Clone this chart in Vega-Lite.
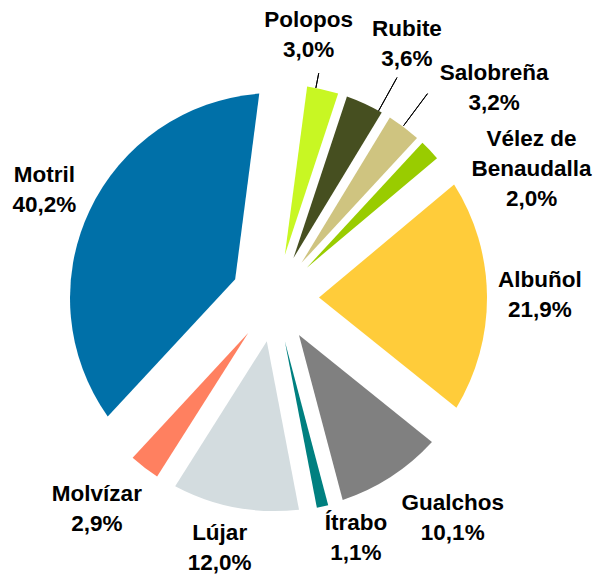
{
  "$schema": "https://vega.github.io/schema/vega-lite/v6.json",
  "width": 550,
  "height": 554,
  "autosize": {"type": "none"},
  "padding": {"left": 0, "top": 21, "right": 44, "bottom": 0},
  "background": "white",
  "config": {"view": {"stroke": null}},
  "data": {
    "values": [
      {"municipio": "Polopos", "porcentaje": 3.0, "orden": 1, "etiqueta": "Polopos\n3,0%"},
      {"municipio": "Rubite", "porcentaje": 3.6, "orden": 2, "etiqueta": "Rubite\n3,6%"},
      {"municipio": "Salobreña", "porcentaje": 3.2, "orden": 3, "etiqueta": "Salobreña\n3,2%"},
      {"municipio": "Vélez de Benaudalla", "porcentaje": 2.0, "orden": 4, "etiqueta": "Vélez de\nBenaudalla\n2,0%"},
      {"municipio": "Albuñol", "porcentaje": 21.9, "orden": 5, "etiqueta": "Albuñol\n21,9%"},
      {"municipio": "Gualchos", "porcentaje": 10.1, "orden": 6, "etiqueta": "Gualchos\n10,1%"},
      {"municipio": "Ítrabo", "porcentaje": 1.1, "orden": 7, "etiqueta": "Ítrabo\n1,1%"},
      {"municipio": "Lújar", "porcentaje": 12.0, "orden": 8, "etiqueta": "Lújar\n12,0%"},
      {"municipio": "Molvízar", "porcentaje": 2.9, "orden": 9, "etiqueta": "Molvízar\n2,9%"},
      {"municipio": "Motril", "porcentaje": 40.2, "orden": 10, "etiqueta": "Motril\n40,2%"}
    ]
  },
  "encoding": {
    "theta": {"field": "porcentaje", "type": "quantitative", "stack": true, "scale": {"range": [0.1309, 6.4141]}},
    "order": {"field": "orden", "type": "quantitative"},
    "detail": {"field": "municipio", "type": "nominal"}
  },
  "layer": [
    {"mark": {"type": "arc", "innerRadius": 44, "outerRadius": 214, "padAngle": 0.039},
     "encoding": {"color": {"field": "municipio", "type": "nominal", "legend": null,
        "scale": {"domain": ["Polopos", "Rubite", "Salobreña", "Vélez de Benaudalla", "Albuñol", "Gualchos", "Ítrabo", "Lújar", "Molvízar", "Motril"],
                  "range": ["#C8F723", "#464F20", "#CFC480", "#99CC00", "#FFCC3A", "#808080", "#008080", "#D3DCDF", "#FF8060", "#0070A8"]}},
       "opacity": {"condition": {"test": "datum.municipio === 'Polopos'", "value": 1}, "value": 0}}},
    {"mark": {"type": "arc", "innerRadius": 44, "outerRadius": 214, "padAngle": 0.046},
     "encoding": {"color": {"field": "municipio", "type": "nominal", "legend": null},
       "opacity": {"condition": {"test": "datum.municipio === 'Rubite'", "value": 1}, "value": 0}}},
    {"mark": {"type": "arc", "innerRadius": 44, "outerRadius": 214, "padAngle": 0.041},
     "encoding": {"color": {"field": "municipio", "type": "nominal", "legend": null},
       "opacity": {"condition": {"test": "datum.municipio === 'Salobreña'", "value": 1}, "value": 0}}},
    {"mark": {"type": "arc", "innerRadius": 44, "outerRadius": 214, "padAngle": 0.026},
     "encoding": {"color": {"field": "municipio", "type": "nominal", "legend": null},
       "opacity": {"condition": {"test": "datum.municipio === 'Vélez de Benaudalla'", "value": 1}, "value": 0}}},
    {"mark": {"type": "arc", "innerRadius": 44, "outerRadius": 212, "padAngle": 0.262},
     "encoding": {"color": {"field": "municipio", "type": "nominal", "legend": null},
       "opacity": {"condition": {"test": "datum.municipio === 'Albuñol'", "value": 1}, "value": 0}}},
    {"mark": {"type": "arc", "innerRadius": 44, "outerRadius": 213, "padAngle": 0.127},
     "encoding": {"color": {"field": "municipio", "type": "nominal", "legend": null},
       "opacity": {"condition": {"test": "datum.municipio === 'Gualchos'", "value": 1}, "value": 0}}},
    {"mark": {"type": "arc", "innerRadius": 44, "outerRadius": 214, "padAngle": 0.0145},
     "encoding": {"color": {"field": "municipio", "type": "nominal", "legend": null},
       "opacity": {"condition": {"test": "datum.municipio === 'Ítrabo'", "value": 1}, "value": 0}}},
    {"mark": {"type": "arc", "innerRadius": 44, "outerRadius": 213, "padAngle": 0.150},
     "encoding": {"color": {"field": "municipio", "type": "nominal", "legend": null},
       "opacity": {"condition": {"test": "datum.municipio === 'Lújar'", "value": 1}, "value": 0}}},
    {"mark": {"type": "arc", "innerRadius": 44, "outerRadius": 214, "padAngle": 0.037},
     "encoding": {"color": {"field": "municipio", "type": "nominal", "legend": null},
       "opacity": {"condition": {"test": "datum.municipio === 'Molvízar'", "value": 1}, "value": 0}}},
    {"mark": {"type": "arc", "innerRadius": 44, "outerRadius": 205, "padAngle": 0.406},
     "encoding": {"color": {"field": "municipio", "type": "nominal", "legend": null},
       "opacity": {"condition": {"test": "datum.municipio === 'Motril'", "value": 1}, "value": 0}}},

    {"mark": {"type": "arc", "innerRadius": 214, "outerRadius": 229, "padAngle": 0.5, "thetaOffset": -0.033, "theta2Offset": -0.033, "filled": false, "stroke": "black", "strokeWidth": 1},
     "encoding": {"strokeOpacity": {"condition": {"test": "datum.municipio === 'Polopos'", "value": 1}, "value": 0}}},
    {"mark": {"type": "arc", "innerRadius": 214, "outerRadius": 252, "padAngle": 0.5, "thetaOffset": 0.073, "theta2Offset": 0.073, "filled": false, "stroke": "black", "strokeWidth": 1},
     "encoding": {"strokeOpacity": {"condition": {"test": "datum.municipio === 'Rubite'", "value": 1}, "value": 0}}},
    {"mark": {"type": "arc", "innerRadius": 215, "outerRadius": 255, "padAngle": 0.5, "thetaOffset": -0.005, "theta2Offset": -0.005, "filled": false, "stroke": "black", "strokeWidth": 1},
     "encoding": {"strokeOpacity": {"condition": {"test": "datum.municipio === 'Salobreña'", "value": 1}, "value": 0}}},

    {"mark": {"type": "text", "radius": 266, "thetaOffset": -0.098, "dy": -14, "font": "Liberation Sans", "fontSize": 22.5, "fontWeight": "bold", "lineBreak": "\n", "lineHeight": 30, "align": "center", "baseline": "middle", "color": "black"},
     "encoding": {"text": {"condition": {"test": "datum.municipio === 'Polopos'", "field": "etiqueta"}, "value": ""}}},
    {"mark": {"type": "text", "radius": 287, "thetaOffset": 0.045, "dy": -14, "font": "Liberation Sans", "fontSize": 22.5, "fontWeight": "bold", "lineBreak": "\n", "lineHeight": 30, "align": "center", "baseline": "middle", "color": "black"},
     "encoding": {"text": {"condition": {"test": "datum.municipio === 'Rubite'", "field": "etiqueta"}, "value": ""}}},
    {"mark": {"type": "text", "radius": 304, "thetaOffset": 0.159, "dy": -14, "font": "Liberation Sans", "fontSize": 22.5, "fontWeight": "bold", "lineBreak": "\n", "lineHeight": 30, "align": "center", "baseline": "middle", "color": "black"},
     "encoding": {"text": {"condition": {"test": "datum.municipio === 'Salobreña'", "field": "etiqueta"}, "value": ""}}},
    {"mark": {"type": "text", "radius": 288, "thetaOffset": 0.290, "dy": -28, "font": "Liberation Sans", "fontSize": 22.5, "fontWeight": "bold", "lineBreak": "\n", "lineHeight": 30, "align": "center", "baseline": "middle", "color": "black"},
     "encoding": {"text": {"condition": {"test": "datum.municipio === 'Vélez de Benaudalla'", "field": "etiqueta"}, "value": ""}}},
    {"mark": {"type": "text", "radius": 265, "thetaOffset": -0.005, "dy": -14, "font": "Liberation Sans", "fontSize": 22.5, "fontWeight": "bold", "lineBreak": "\n", "lineHeight": 30, "align": "center", "baseline": "middle", "color": "black"},
     "encoding": {"text": {"condition": {"test": "datum.municipio === 'Albuñol'", "field": "etiqueta"}, "value": ""}}},
    {"mark": {"type": "text", "radius": 282, "thetaOffset": -0.106, "dy": -14, "font": "Liberation Sans", "fontSize": 22.5, "fontWeight": "bold", "lineBreak": "\n", "lineHeight": 30, "align": "center", "baseline": "middle", "color": "black"},
     "encoding": {"text": {"condition": {"test": "datum.municipio === 'Gualchos'", "field": "etiqueta"}, "value": ""}}},
    {"mark": {"type": "text", "radius": 252, "thetaOffset": -0.103, "dy": -14, "font": "Liberation Sans", "fontSize": 22.5, "fontWeight": "bold", "lineBreak": "\n", "lineHeight": 30, "align": "center", "baseline": "middle", "color": "black"},
     "encoding": {"text": {"condition": {"test": "datum.municipio === 'Ítrabo'", "field": "etiqueta"}, "value": ""}}},
    {"mark": {"type": "text", "radius": 259, "thetaOffset": 0.028, "dy": -18, "font": "Liberation Sans", "fontSize": 22.5, "fontWeight": "bold", "lineBreak": "\n", "lineHeight": 30, "align": "center", "baseline": "middle", "color": "black"},
     "encoding": {"text": {"condition": {"test": "datum.municipio === 'Lújar'", "field": "etiqueta"}, "value": ""}}},
    {"mark": {"type": "text", "radius": 275, "thetaOffset": 0.049, "dy": -14, "font": "Liberation Sans", "fontSize": 22.5, "fontWeight": "bold", "lineBreak": "\n", "lineHeight": 30, "align": "center", "baseline": "middle", "color": "black"},
     "encoding": {"text": {"condition": {"test": "datum.municipio === 'Molvízar'", "field": "etiqueta"}, "value": ""}}},
    {"mark": {"type": "text", "radius": 255, "thetaOffset": 0.003, "dy": -14, "font": "Liberation Sans", "fontSize": 22.5, "fontWeight": "bold", "lineBreak": "\n", "lineHeight": 30, "align": "center", "baseline": "middle", "color": "black"},
     "encoding": {"text": {"condition": {"test": "datum.municipio === 'Motril'", "field": "etiqueta"}, "value": ""}}}
  ]
}
